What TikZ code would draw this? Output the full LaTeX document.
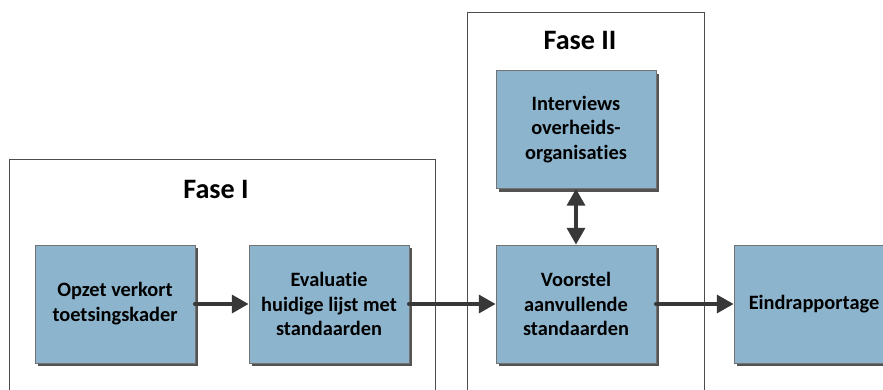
\documentclass[tikz,border=0pt]{standalone}
\usepackage{fontspec}
\setmainfont{Carlito}[RawFeature=-liga]
\usetikzlibrary{arrows.meta,shadows}
\begin{document}
\begin{tikzpicture}[x=0.025cm,y=-0.025cm]
\definecolor{blok_blauw}{HTML}{8DB4CD}
\definecolor{pijl_grijs}{HTML}{383838}
\tikzset{
  blok/.style={draw=black!55,fill=blok_blauw,minimum width=4cm,minimum height=2.95cm,align=center,
    font=\bfseries\fontsize{14.5}{17.7}\selectfont,
    drop shadow={shadow xshift=0.08cm,shadow yshift=-0.08cm,fill=black!75,opacity=0.9}},
  titel/.style={anchor=base,font=\bfseries\fontsize{20}{24}\selectfont},
  pijl/.style={draw=pijl_grijs,line width=3.4pt,line cap=round,-{Triangle[length=0.42cm,width=0.44cm]}}
}

\useasboundingbox (0,0) rectangle (883,389);
\clip (0,0) rectangle (883,389);

\draw[black!70] (9,159) rectangle (435,420);%kader fase I
\draw[black!70] (467,12) rectangle (704,420);%kader fase II
\node[titel] (fase_een) at (216,198) {Fase I};
\node[titel] (fase_twee) at (580,49) {Fase II};

\node[blok] (opzet) at (115,304) {Opzet verkort\\toetsingskader};
\node[blok] (evaluatie) at (329,304) {Evaluatie\\huidige lijst met\\standaarden};
\node[blok] (interviews) at (576,129.5) {Interviews\\overheids-\\organisaties};
\node[blok] (voorstel) at (576,304) {Voorstel\\aanvullende\\standaarden};
\node[blok] (eind) at (814,304) {Eindrapportage};

\draw[pijl] (opzet) -- (evaluatie);%naar evaluatie
\draw[pijl] (evaluatie) -- (voorstel);%naar fase II
\draw[pijl] (voorstel) -- (eind);%naar eindrapport
\draw[pijl,line cap=butt,{Triangle[length=0.42cm,width=0.44cm]}-{Triangle[length=0.42cm,width=0.44cm]}] (interviews) -- (voorstel);%heen en terug
\end{tikzpicture}
\end{document}
